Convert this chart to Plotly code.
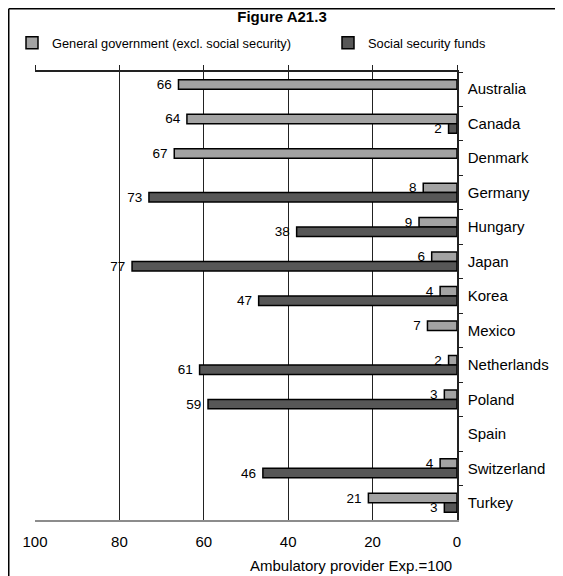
import plotly.graph_objects as go

countries = ["Australia", "Canada", "Denmark", "Germany", "Hungary", "Japan", "Korea",
             "Mexico", "Netherlands", "Poland", "Spain", "Switzerland", "Turkey"]
general_gov = [66, 64, 67, 8, 9, 6, 4, 7, 2, 3, None, 4, 21]
social_sec = [None, 2, None, 73, 38, 77, 47, None, 61, 59, None, 46, 3]
x_ticks = [0, 20, 40, 60, 80, 100]

FONT = "Liberation Sans, Arial, sans-serif"
W, H = 563, 576
OFF = 8                          # page body margin of the exported html
L, R, T, B = 27, 449, 64, 512    # plot area, figure pixels


def px_x(p):
    return (p - L) / (R - L)


def px_y(p):
    return (B - p) / (B - T)


def labels(vals):
    # trailing no-break space keeps a small gap between number and bar end
    return [str(v) + "\u00a0" if v is not None else "" for v in vals]


fig = go.Figure()

fig.add_trace(go.Bar(
    y=countries, x=general_gov, orientation="h",
    name="General government (excl. social security)",
    marker=dict(color="#a3a3a3", line=dict(color="black", width=1.5)),
    text=labels(general_gov), textposition="outside", constraintext="none",
    textfont=dict(size=13.5, color="black"), cliponaxis=False, legend="legend"
))

fig.add_trace(go.Bar(
    y=countries, x=social_sec, orientation="h",
    name="Social security funds",
    marker=dict(color="#575757", line=dict(color="black", width=1.5)),
    text=labels(social_sec), textposition="outside", constraintext="none",
    textfont=dict(size=13.5, color="black"), cliponaxis=False, legend="legend2"
))

# invisible trace so the top axis (ticks only) is drawn
fig.add_trace(go.Scatter(x=[0], y=[countries[0]], xaxis="x2", mode="lines",
                         showlegend=False, hoverinfo="skip"))

legend_style = dict(orientation="h", xref="container", xanchor="left",
                    y=1 - 35 / H, yref="container", yanchor="middle",
                    font=dict(size=12.8), itemwidth=30, bgcolor="rgba(0,0,0,0)")

fig.update_layout(
    width=W, height=H,
    margin=dict(l=L, r=W - R, t=T, b=H - B, autoexpand=False),
    paper_bgcolor="white", plot_bgcolor="white",
    font=dict(family=FONT, size=15, color="black"),
    barmode="group", bargap=0.45, bargroupgap=0,
    title=dict(text="<b>Figure A21.3</b>", x=(282 - OFF) / W, xref="container",
               xanchor="center", y=1 - 9 / H, yref="container", yanchor="middle",
               font=dict(size=15, family=FONT)),
    legend=dict(x=4 / W, **legend_style),
    legend2=dict(x=320 / W, **legend_style),
    xaxis=dict(range=[100, 0], tickvals=x_ticks, showgrid=True, gridcolor="#222222",
               gridwidth=1, zeroline=False, showline=True, linecolor="#8c8c8c",
               linewidth=1.5, ticks="", tickfont=dict(size=15), ticklabelstandoff=7),
    xaxis2=dict(range=[100, 0], tickvals=x_ticks, overlaying="x", side="top",
                showgrid=False, zeroline=False, showline=True, linecolor="#222222",
                linewidth=1.5, ticks="outside", ticklen=5, tickcolor="#222222",
                showticklabels=False),
    yaxis=dict(range=[len(countries) - 0.5, -0.5], side="right", showline=True,
               linecolor="#222222", linewidth=1.5, ticks="outside", ticklen=4,
               tickson="boundaries", tickcolor="#222222", showgrid=False,
               tickfont=dict(size=15), ticklabelstandoff=6),
)

fig.add_annotation(text="Ambulatory provider Exp.=100", x=px_x(351 - OFF), xref="paper",
                   y=px_y(565 - OFF), yref="paper", showarrow=False,
                   font=dict(size=15), xanchor="center", yanchor="middle")

# outer frame at the figure edge: only its left and top sides fall inside the picture
fig.add_shape(type="line", xref="paper", yref="paper",
              x0=px_x(0.75), x1=px_x(0.75), y0=px_y(0.75), y1=px_y(H),
              line=dict(color="black", width=1.5))
fig.add_shape(type="line", xref="paper", yref="paper",
              x0=px_x(0.75), x1=px_x(W), y0=px_y(0.75), y1=px_y(0.75),
              line=dict(color="black", width=1.5))

fig.write_html("out.html")
